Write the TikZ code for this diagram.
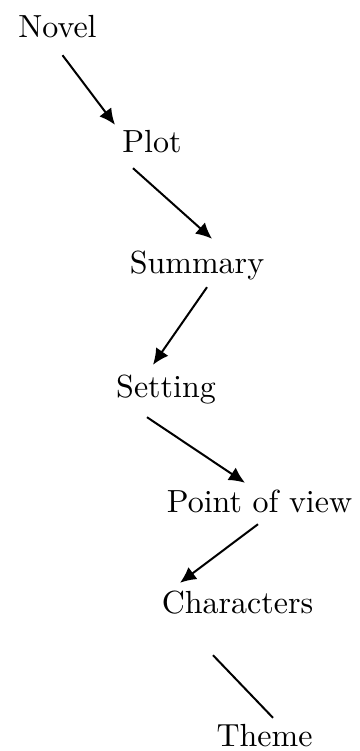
\documentclass[tikz,border=0pt]{standalone}
\usepackage{fontspec}
\usepackage{tikz}
\usetikzlibrary{arrows.meta}
\newfontfamily\wordfont{lmroman10-regular.otf}
\tikzset{
  word/.style  = {shape=rectangle, anchor=base, inner sep=5pt,
                  text height=23pt, text depth=7pt,
                  font=\wordfont\fontsize{32}{38}\selectfont},
  link/.style  = {draw, line width=2pt, -{Latex[length=16pt,width=15pt]}},
  plain/.style = {draw, line width=2pt},
}

\begin{document}
\begin{tikzpicture}
  [
    x = 1pt,
    y = 1pt,
  ]
  \useasboundingbox (0,0) rectangle (359,-751);
  \node [word] (novel)      at (57.5,-38)  {Novel};
  \node [word] (plot)       at (152,-153)  {Plot};
  \node [word] (summary)    at (197,-273)  {Summary};
  \node [word] (setting)    at (166,-397)  {Setting};
  \node [word] (pov)        at (259.5,-512) {Point of view};
  \node [word] (characters) at (237.5,-613) {Characters};
  \node [word, text depth=0pt, inner sep=3pt] (theme) at (264.5,-746) {Theme};
  \draw [link] ([xshift=5pt,yshift=-5pt]novel.south) -- ([xshift=-37pt]plot.north);
  \draw [link] ([xshift=-19pt,yshift=-3pt]plot.south) -- ([xshift=15pt,yshift=6pt]summary.north);
  \draw [link] ([xshift=10pt,yshift=-2pt]summary.south) -- ([xshift=-13pt,yshift=4pt]setting.north);
  \draw [link] ([xshift=-19pt,yshift=-8pt]setting.south) -- ([xshift=-14.5pt,yshift=1pt]pov.north);
  \draw [link] ([xshift=-1.5pt]pov.south) -- ([xshift=-57.5pt,yshift=2pt]characters.north);
  \draw [plain] ([xshift=-24.5pt,yshift=-30pt]characters.south) -- ([xshift=8.5pt,yshift=2pt]theme.north);
\end{tikzpicture}
\end{document}
